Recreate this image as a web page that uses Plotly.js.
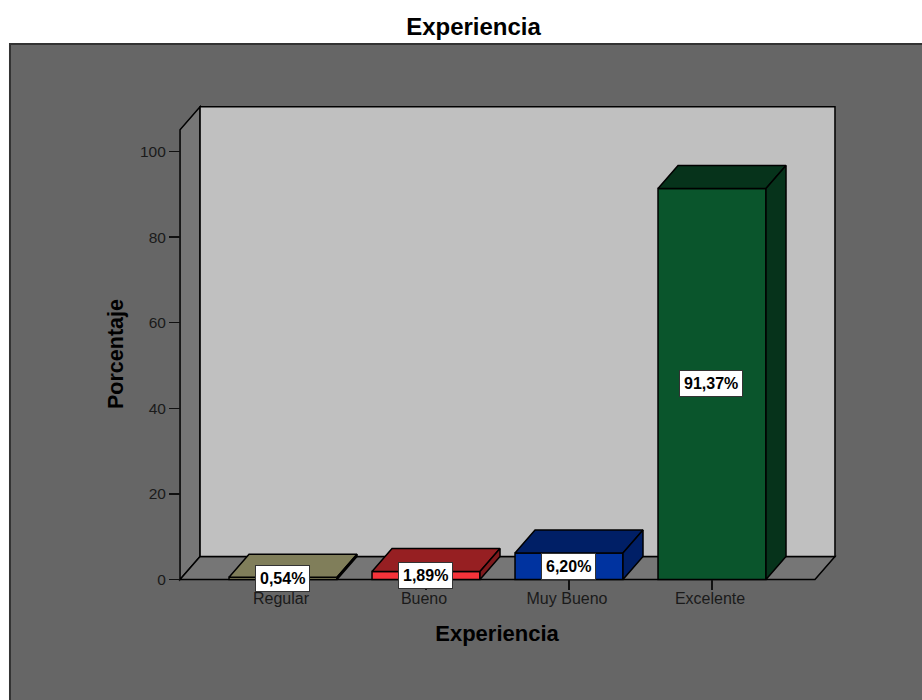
<!DOCTYPE html>
<html>
<head>
<meta charset="utf-8">
<script src="https://cdn.plot.ly/plotly-3.0.1.min.js"></script>
<style>html,body{margin:0;padding:0;background:#fff;overflow:hidden}</style>
</head>
<body>
<div id="chart" style="width:922px;height:700px"></div>
<script>
var categories = ["Regular", "Bueno", "Muy Bueno", "Excelente"];
var values = [0.54, 1.89, 6.20, 91.37];
var valueLabels = ["0,54%", "1,89%", "6,20%", "91,37%"];
var frontColors = ["#8c8a62", "#f5333a", "#0033a0", "#0a552c"];
var topColors = ["#807e5a", "#961f22", "#001f66", "#06331b"];
var sideColors = ["#6f6d4d", "#7f1a1d", "#001f66", "#06331b"];
var yTicks = [0, 20, 40, 60, 80, 100];

var barWidth = 0.755, depthX = 0.14, depthY = 5.37;
var wallLeft = -0.72, wallRight = 3.72, wallTop = 105.1;
var xIndex = categories.map(function (c, i) { return i; });

var traces = [{
  type: "bar", x: xIndex, y: values, width: barWidth,
  marker: { color: frontColors, line: { color: "#000", width: 1.5 } },
  hoverinfo: "skip", showlegend: false
}];
values.forEach(function (v, i) {
  var a = i - barWidth / 2, b = i + barWidth / 2;
  [[[a, b, b + depthX, a + depthX, a], [v, v, v + depthY, v + depthY, v], topColors[i]],
   [[b, b + depthX, b + depthX, b, b], [0, depthY, v + depthY, v, 0], sideColors[i]]
  ].forEach(function (f) {
    traces.push({
      type: "scatter", mode: "lines", x: f[0], y: f[1], fill: "toself", fillcolor: f[2],
      line: { color: "#000", width: 1.5 }, hoverinfo: "skip", showlegend: false
    });
  });
});

function poly(pts, fill) {
  return {
    type: "path", xref: "x", yref: "y", layer: "below", fillcolor: fill,
    line: { color: "#000", width: 1.5 },
    path: pts.map(function (p, i) { return (i ? "L" : "M") + p[0] + "," + p[1]; }).join(" ") + " Z"
  };
}
var shapes = [
  { type: "rect", xref: "paper", yref: "paper", layer: "below",
    x0: -0.2162, x1: 1.13, y0: -0.21, y1: 1.12,
    fillcolor: "#666666", line: { color: "#333333", width: 2 } },
  poly([[wallLeft, 0], [wallLeft, wallTop], [wallLeft + depthX, wallTop + depthY], [wallLeft + depthX, depthY]], "#767676"),
  poly([[wallLeft, 0], [wallRight, 0], [wallRight + depthX, depthY], [wallLeft + depthX, depthY]], "#767676"),
  poly([[wallLeft + depthX, depthY], [wallRight + depthX, depthY], [wallRight + depthX, wallTop + depthY], [wallLeft + depthX, wallTop + depthY]], "#c0c0c0")
];

var annotations = values.map(function (v, i) {
  return {
    x: i, y: v / 2, xref: "x", yref: "y", text: valueLabels[i], showarrow: false, xshift: -1,
    font: { family: "Liberation Sans, Arial, sans-serif", size: 16, color: "#000", weight: "bold" },
    bgcolor: "#ffffff", bordercolor: "#333333", borderwidth: 1, borderpad: 4
  };
});

var layout = {
  width: 922, height: 700,
  margin: { l: 157, r: 85, t: 104, b: 96, pad: 0 },
  paper_bgcolor: "#ffffff", plot_bgcolor: "rgba(0,0,0,0)",
  font: { family: "Liberation Sans, Arial, sans-serif", color: "#1a1a1a" },
  title: {
    text: "<b>Experiencia</b>", x: 473.5 / 922, y: 1 - 27 / 700, xref: "container", yref: "container",
    xanchor: "center", yanchor: "middle",
    font: { size: 24, color: "#000", family: "Liberation Sans, Arial, sans-serif" }
  },
  xaxis: {
    range: [-0.8811, 3.8741], anchor: "free", position: 0.05,
    tickvals: xIndex, ticktext: categories, ticks: "outside", ticklen: 10, tickwidth: 1.5, tickcolor: "#111",
    tickfont: { size: 16, color: "#1a1a1a" }, ticklabelshift: -2, ticklabelstandoff: -5,
    showgrid: false, zeroline: false, showline: false,
    title: { text: "<b>Experiencia</b>", standoff: 19, font: { size: 22, color: "#000" } }
  },
  yaxis: {
    range: [-5.72, 111.1], anchor: "free", position: 0.0338,
    tickvals: yTicks, ticks: "outside", ticklen: 11, tickwidth: 1.5, tickcolor: "#111",
    tickfont: { size: 15.5, color: "#1a1a1a" },
    showgrid: false, zeroline: false, showline: false,
    title: { text: "<b>Porcentaje</b>", standoff: 9, font: { size: 21.5, color: "#000" } }
  },
  shapes: shapes,
  annotations: annotations,
  showlegend: false
};
Plotly.newPlot("chart", traces, layout, { staticPlot: true, displayModeBar: false });
</script>
</body>
</html>
